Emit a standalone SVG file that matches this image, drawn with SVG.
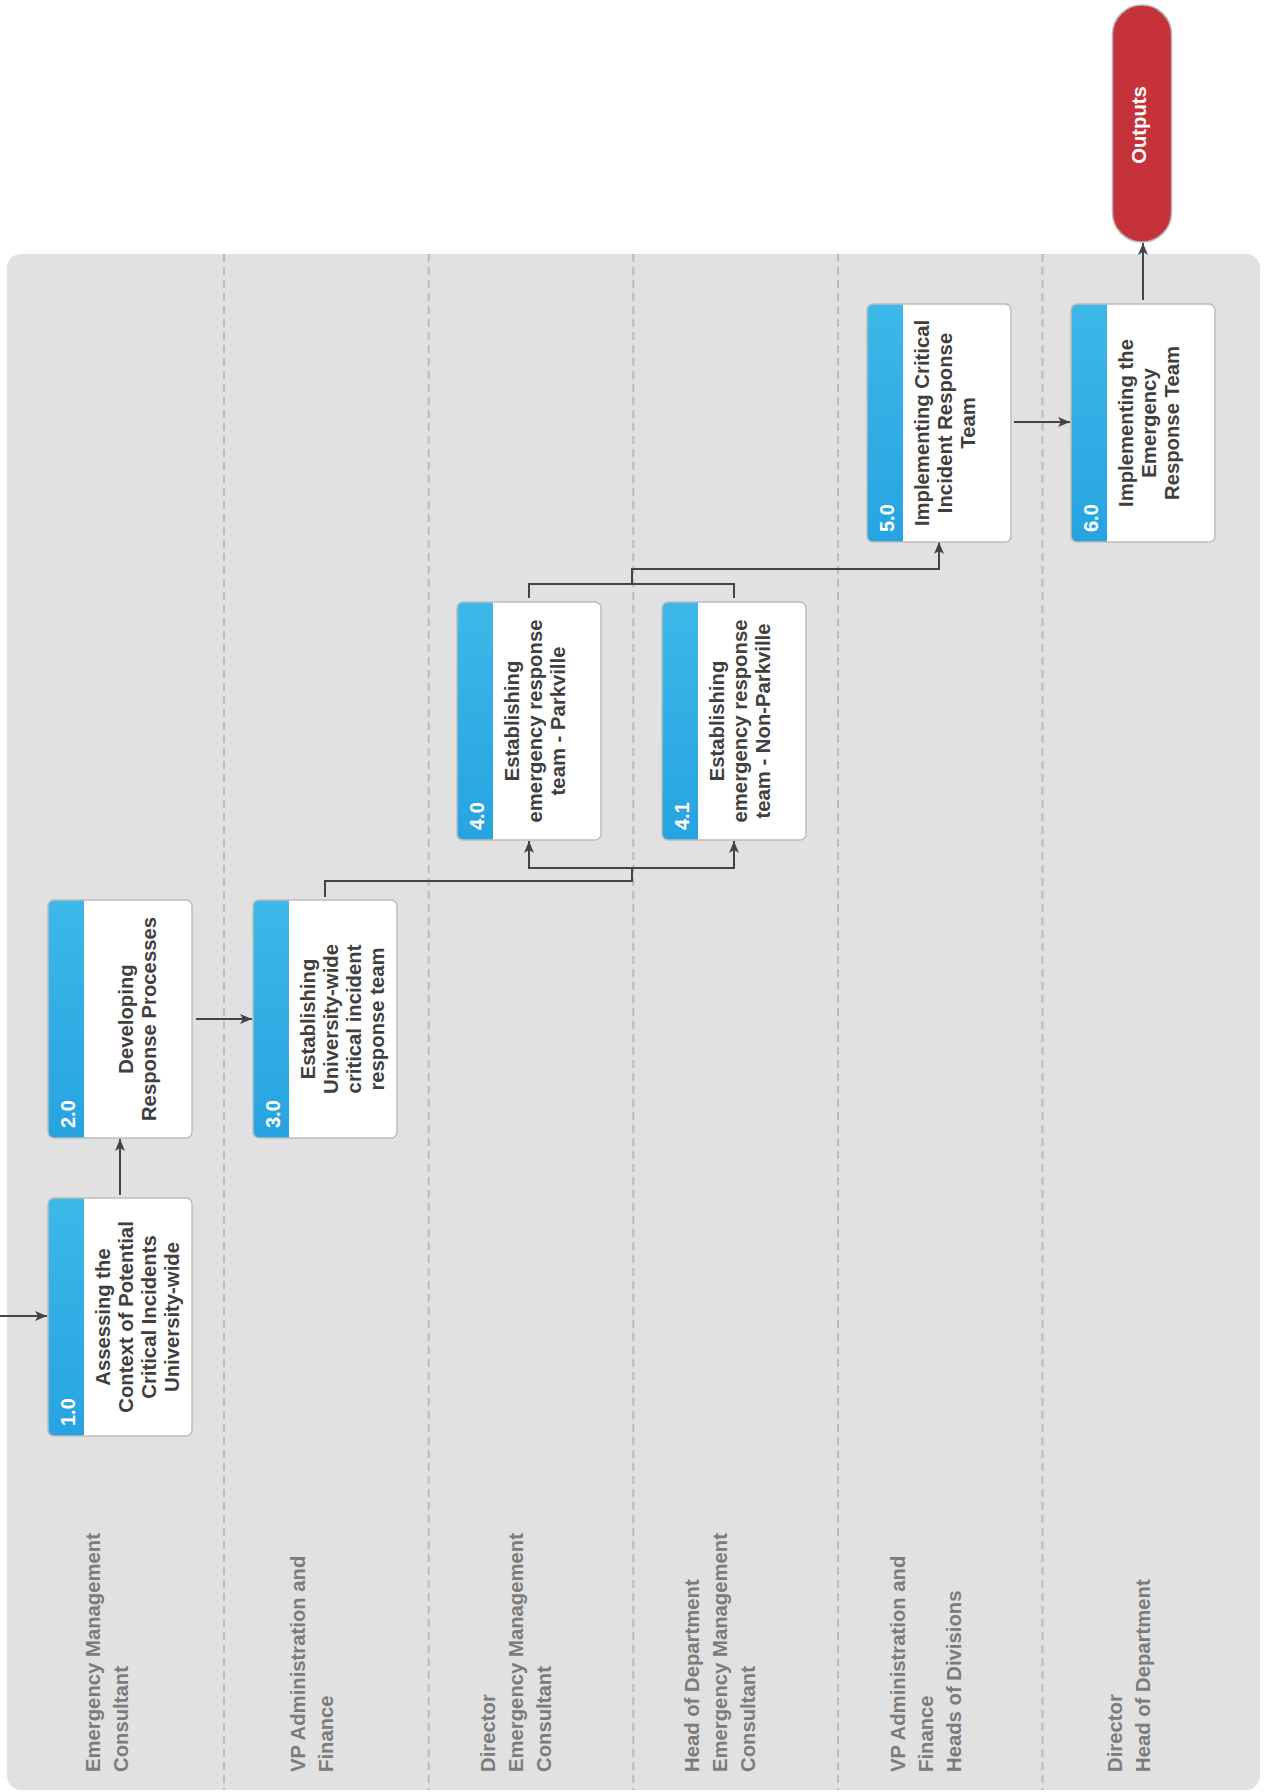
<svg xmlns="http://www.w3.org/2000/svg" width="1269" height="1792" viewBox="0 0 1269 1792">
  <style>
    .panel { fill: #e1e1e1; }
    .divider { stroke: #bcbcbc; stroke-width: 2; stroke-dasharray: 8 5; fill: none; }
    .box { fill: #ffffff; }
    .outline { fill: none; stroke: #bdbdbd; stroke-width: 1.5; }
    .band { fill: url(#bandGrad); }
    .num { font-family: "Liberation Sans", Arial, sans-serif; font-weight: bold; font-size: 20px; fill: #ffffff; }
    .lbl { font-family: "Liberation Sans", Arial, sans-serif; font-weight: bold; font-size: 20.3px; fill: #3f3f3f; text-anchor: middle; }
    .lane { font-family: "Liberation Sans", Arial, sans-serif; font-weight: bold; font-size: 20.3px; fill: #7b7b7b; }
    .conn { fill: none; stroke: #444444; stroke-width: 2; }
    .out { fill: #c5323a; stroke: #b5b5b5; stroke-width: 1.5; }
    .outtxt { font-family: "Liberation Sans", Arial, sans-serif; font-weight: bold; font-size: 20.3px; fill: #ffffff; text-anchor: middle; }
  </style>
  <defs>
    <linearGradient id="bandGrad" x1="0" y1="0" x2="0" y2="1">
      <stop offset="0" stop-color="#3db8e9"/>
      <stop offset="1" stop-color="#27a3e1"/>
    </linearGradient>
    <marker id="arrow" markerUnits="userSpaceOnUse" markerWidth="13" markerHeight="11" refX="12" refY="5.5" orient="auto">
      <path d="M0,0.5 L12,5.5 L0,10.5 L3,5.5 Z" fill="#444444"/>
    </marker>
  </defs>

  <!-- pool / lanes -->
  <g id="pool">
    <rect class="panel" x="7" y="254" width="1253" height="1536" rx="14"/>
    <line class="divider" x1="224" y1="254" x2="224" y2="1790"/>
    <line class="divider" x1="428.7" y1="254" x2="428.7" y2="1790"/>
    <line class="divider" x1="633.3" y1="254" x2="633.3" y2="1790"/>
    <line class="divider" x1="838" y1="254" x2="838" y2="1790"/>
    <line class="divider" x1="1042.5" y1="254" x2="1042.5" y2="1790"/>
  </g>

  <g id="lane-labels">
    <text class="lane" transform="translate(100,1772) rotate(-90)"><tspan x="0" y="0">Emergency Management</tspan><tspan x="0" y="28">Consultant</tspan></text>
    <text class="lane" transform="translate(305,1772) rotate(-90)"><tspan x="0" y="0">VP Administration and</tspan><tspan x="0" y="28">Finance</tspan></text>
    <text class="lane" transform="translate(495,1772) rotate(-90)"><tspan x="0" y="0">Director</tspan><tspan x="0" y="28">Emergency Management</tspan><tspan x="0" y="56">Consultant</tspan></text>
    <text class="lane" transform="translate(699,1772) rotate(-90)"><tspan x="0" y="0">Head of Department</tspan><tspan x="0" y="28">Emergency Management</tspan><tspan x="0" y="56">Consultant</tspan></text>
    <text class="lane" transform="translate(905,1772) rotate(-90)"><tspan x="0" y="0">VP Administration and</tspan><tspan x="0" y="28">Finance</tspan><tspan x="0" y="56">Heads of Divisions</tspan></text>
    <text class="lane" transform="translate(1122,1772) rotate(-90)"><tspan x="0" y="0">Director</tspan><tspan x="0" y="28">Head of Department</tspan></text>
  </g>

  <!-- connectors -->
  <g id="connectors">
    <path class="conn" d="M0,1316 H47" marker-end="url(#arrow)"/>
    <path class="conn" d="M120,1195 V1139" marker-end="url(#arrow)"/>
    <path class="conn" d="M196,1019 H252" marker-end="url(#arrow)"/>
    <path class="conn" d="M325,897 V881 H632 V868"/>
    <path class="conn" d="M632,868 H529 V841" marker-end="url(#arrow)"/>
    <path class="conn" d="M632,868 H734 V841" marker-end="url(#arrow)"/>
    <path class="conn" d="M529,598 V584 H734 V598"/>
    <path class="conn" d="M632,584 V569 H939 V542" marker-end="url(#arrow)"/>
    <path class="conn" d="M1014,422 H1070" marker-end="url(#arrow)"/>
    <path class="conn" d="M1143,300 V243" marker-end="url(#arrow)"/>
  </g>

  <!-- nodes -->
  <g id="node-1-0">
    <rect class="box" x="48" y="1198" width="144" height="238" rx="6"/>
    <path class="band" d="M84,1198 H54 A6,6 0 0 0 48,1204 V1430 A6,6 0 0 0 54,1436 H84 Z"/>
    <rect class="outline" x="48" y="1198" width="144" height="238" rx="6"/>
    <text class="num" transform="translate(75,1426) rotate(-90)">1.0</text>
    <text class="lbl" transform="translate(109.5,1317) rotate(-90)"><tspan x="0" y="0">Assessing the</tspan><tspan x="0" y="23">Context of Potential</tspan><tspan x="0" y="46">Critical Incidents</tspan><tspan x="0" y="69">University-wide</tspan></text>
  </g>

  <g id="node-2-0">
    <rect class="box" x="48" y="900" width="144" height="238" rx="6"/>
    <path class="band" d="M84,900 H54 A6,6 0 0 0 48,906 V1132 A6,6 0 0 0 54,1138 H84 Z"/>
    <rect class="outline" x="48" y="900" width="144" height="238" rx="6"/>
    <text class="num" transform="translate(75,1128) rotate(-90)">2.0</text>
    <text class="lbl" transform="translate(133,1019) rotate(-90)"><tspan x="0" y="0">Developing</tspan><tspan x="0" y="23">Response Processes</tspan></text>
  </g>

  <g id="node-3-0">
    <rect class="box" x="253" y="900" width="144" height="238" rx="6"/>
    <path class="band" d="M289,900 H259 A6,6 0 0 0 253,906 V1132 A6,6 0 0 0 259,1138 H289 Z"/>
    <rect class="outline" x="253" y="900" width="144" height="238" rx="6"/>
    <text class="num" transform="translate(280,1128) rotate(-90)">3.0</text>
    <text class="lbl" transform="translate(314.5,1019) rotate(-90)"><tspan x="0" y="0">Establishing</tspan><tspan x="0" y="23">University-wide</tspan><tspan x="0" y="46">critical incident</tspan><tspan x="0" y="69">response team</tspan></text>
  </g>

  <g id="node-4-0">
    <rect class="box" x="457" y="602" width="144" height="238" rx="6"/>
    <path class="band" d="M493,602 H463 A6,6 0 0 0 457,608 V834 A6,6 0 0 0 463,840 H493 Z"/>
    <rect class="outline" x="457" y="602" width="144" height="238" rx="6"/>
    <text class="num" transform="translate(484,830) rotate(-90)">4.0</text>
    <text class="lbl" transform="translate(518.5,721) rotate(-90)"><tspan x="0" y="0">Establishing</tspan><tspan x="0" y="23">emergency response</tspan><tspan x="0" y="46">team - Parkville</tspan></text>
  </g>

  <g id="node-4-1">
    <rect class="box" x="662" y="602" width="144" height="238" rx="6"/>
    <path class="band" d="M698,602 H668 A6,6 0 0 0 662,608 V834 A6,6 0 0 0 668,840 H698 Z"/>
    <rect class="outline" x="662" y="602" width="144" height="238" rx="6"/>
    <text class="num" transform="translate(689,830) rotate(-90)">4.1</text>
    <text class="lbl" transform="translate(723.5,721) rotate(-90)"><tspan x="0" y="0">Establishing</tspan><tspan x="0" y="23">emergency response</tspan><tspan x="0" y="46">team - Non-Parkville</tspan></text>
  </g>

  <g id="node-5-0">
    <rect class="box" x="867" y="304" width="144" height="238" rx="6"/>
    <path class="band" d="M903,304 H873 A6,6 0 0 0 867,310 V536 A6,6 0 0 0 873,542 H903 Z"/>
    <rect class="outline" x="867" y="304" width="144" height="238" rx="6"/>
    <text class="num" transform="translate(894,532) rotate(-90)">5.0</text>
    <text class="lbl" transform="translate(928.5,423) rotate(-90)"><tspan x="0" y="0">Implementing Critical</tspan><tspan x="0" y="23">Incident Response</tspan><tspan x="0" y="46">Team</tspan></text>
  </g>

  <g id="node-6-0">
    <rect class="box" x="1071" y="304" width="144" height="238" rx="6"/>
    <path class="band" d="M1107,304 H1077 A6,6 0 0 0 1071,310 V536 A6,6 0 0 0 1077,542 H1107 Z"/>
    <rect class="outline" x="1071" y="304" width="144" height="238" rx="6"/>
    <text class="num" transform="translate(1098,532) rotate(-90)">6.0</text>
    <text class="lbl" transform="translate(1132.5,423) rotate(-90)"><tspan x="0" y="0">Implementing the</tspan><tspan x="0" y="23">Emergency</tspan><tspan x="0" y="46">Response Team</tspan></text>
  </g>

  <g id="node-outputs">
    <rect class="out" x="1112.5" y="5" width="59" height="237" rx="29.5"/>
    <text class="outtxt" transform="translate(1146,125) rotate(-90)">Outputs</text>
  </g>
</svg>
